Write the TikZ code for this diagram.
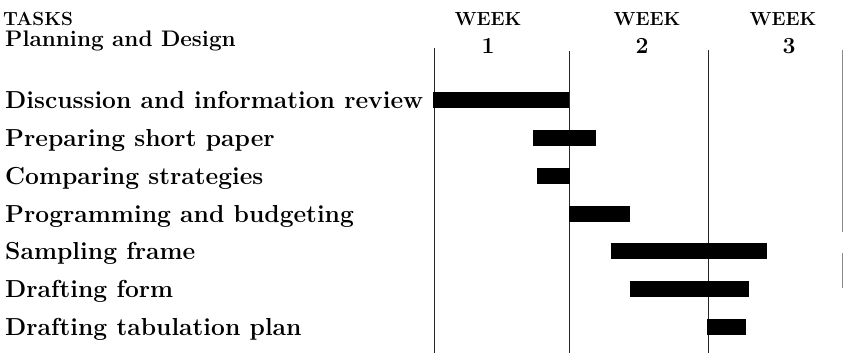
\documentclass[tikz,border=0pt]{standalone}
\usepackage{fontspec}
\usepackage{tikz}
\usetikzlibrary{positioning}

\begin{document}
\begin{tikzpicture}[
    x=1pt, y=-1pt,
    task/.style={anchor=base west, inner sep=0pt, font=\fontsize{24.6}{28}\selectfont\bfseries},
    head/.style={anchor=base, inner sep=0pt, font=\fontsize{19}{22}\selectfont\bfseries},
    weeknum/.style={anchor=base, inner sep=0pt, font=\fontsize{23}{26}\selectfont\bfseries},
    bar/.style={fill=black},
    rule/.style={line width=0.9pt, black!85}
]
\useasboundingbox (0,0) rectangle (843,353);

% headings
\node[head, anchor=base west] (tasks) at (3,26) {TASKS};
\node[task, font=\fontsize{22.5}{26}\selectfont\bfseries] (phase) at (5,47) {Planning and Design};
\node[head] (week1) at (488,26) {WEEK};
\node[weeknum] (num1) at (488,53) {1};
\node[head] (week2) at (647,26) {WEEK};
\node[weeknum] (num2) at (642,53) {2};
\node[head] (week3) at (783,26) {WEEK};
\node[weeknum] (num3) at (789,53) {3};

% week dividers
\draw[rule] (434,48) -- (434,353);
\draw[rule] (569,51) -- (569,353);
\draw[rule] (708,50) -- (708,353);
\draw[line width=0.6pt, black!45] (842,50) -- (842,232) (842,253) -- (842,288);

% tasks and bars
\foreach \name/\label/\y/\start/\stop in {
    review/Discussion and information review/108/433/569,
    paper/Preparing short paper/146/533/596,
    strat/Comparing strategies/184/537/570,
    budget/Programming and budgeting/222/569/630,
    frame/Sampling frame/259/611/767,
    form/Drafting form/297/630/749,
    tab/Drafting tabulation plan/335/707/746}{
  \node[task] (\name) at (5,\y) {\label};
  \fill[bar] (\start,\y-16) rectangle (\stop,\y);
}
\end{tikzpicture}
\end{document}
